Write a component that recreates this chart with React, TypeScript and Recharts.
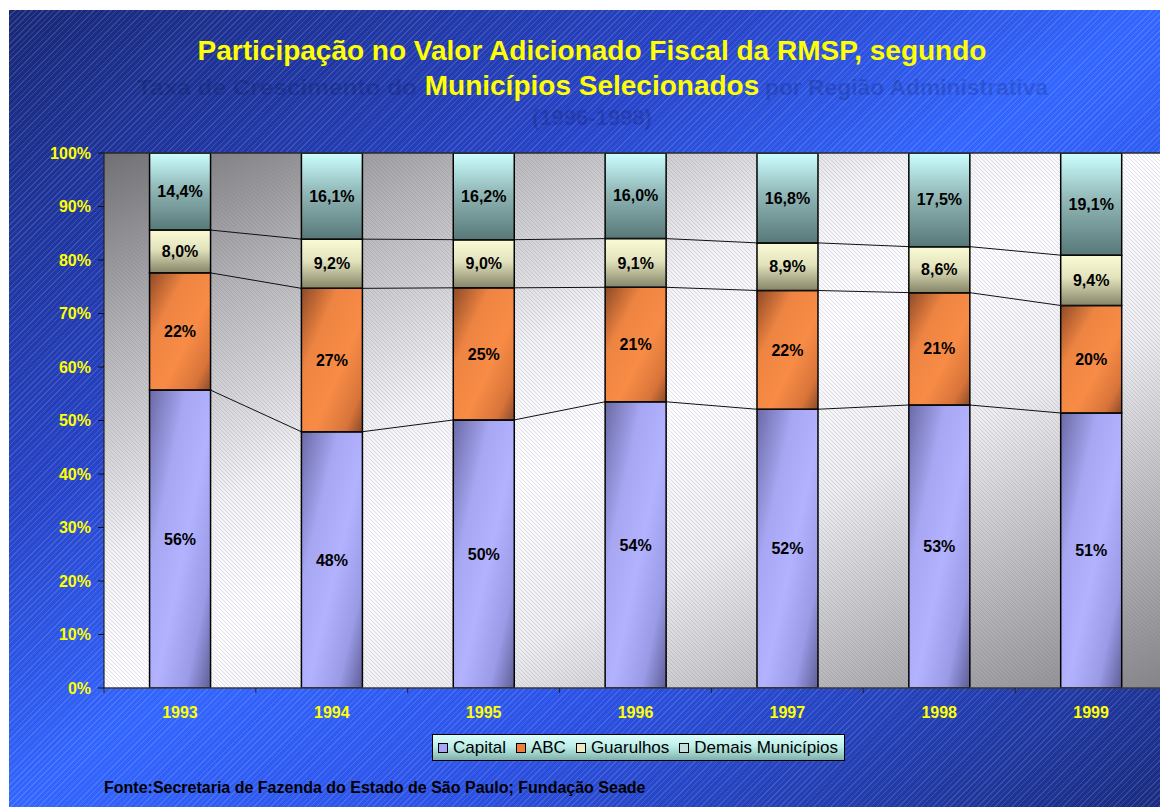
import React from 'react';
import {
  ComposedChart,
  Bar,
  XAxis,
  YAxis,
  CartesianGrid,
  Scatter,
  LabelList,
  Legend,
  ReferenceLine,
} from 'recharts';

const FONT = '"Liberation Sans", Arial, Helvetica, sans-serif';

// ---------- data ----------
const years = ['1993', '1994', '1995', '1996', '1997', '1998', '1999'];
const capital = [55.7, 47.9, 50.1, 53.5, 52.1, 52.9, 51.4];
const abc = [21.9, 26.8, 24.7, 21.4, 22.2, 21.0, 20.1];
const guarulhos = [8.0, 9.2, 9.0, 9.1, 8.9, 8.6, 9.4];
const demais = [14.4, 16.1, 16.2, 16.0, 16.8, 17.5, 19.1];
const seriesKeys = ['capital', 'abc', 'guarulhos', 'demais'];
const seriesNames = ['Capital', 'ABC', 'Guarulhos', 'Demais Municípios'];
const swatchColors = ['#a6a6f6', '#f07e3c', '#ecebc6', '#c4dedb'];
const yTicks = [0, 10, 20, 30, 40, 50, 60, 70, 80, 90, 100];

const data = years.map((year, i) => ({
  year,
  capital: capital[i],
  abc: abc[i],
  guarulhos: guarulhos[i],
  demais: demais[i],
}));

// ---------- layout ----------
const CHART_W = 1160;
const CHART_H = 797;
const MARGIN = { top: 143, right: 2, bottom: 89, left: 0 };
const Y_AXIS_W = 95;
const X_AXIS_H = 30;
const CAT_GAP = 0.3; // barCategoryGap fraction
const HALF_BAR = (1 - 2 * CAT_GAP) / 2; // half bar width, in category units
const PLOT_W = CHART_W - MARGIN.left - MARGIN.right - Y_AXIS_W;
const HALF_STEP = PLOT_W / years.length / 2;

// series connector lines (stack boundaries), from bar edge to bar edge
const cumCapital = capital.map((v) => v);
const cumAbc = capital.map((v, i) => v + abc[i]);
const cumGuar = capital.map((v, i) => v + abc[i] + guarulhos[i]);
const edgePoints = (cum: number[]) =>
  cum.flatMap((c, i) => [
    { x: i - HALF_BAR, y: c },
    { x: i + HALF_BAR, y: c },
  ]);

const fmtInt = (v: any) => `${Math.round(Number(v))}%`;
const fmtDec = (v: any) => `${Number(v).toFixed(1).replace('.', ',')}%`;

const labelProps = {
  position: 'center' as const,
  fill: '#000',
  fontSize: 16,
  fontWeight: 'bold',
  fontFamily: FONT,
};

const YearTick = (props: any) => {
  const { x, y, payload, index } = props;
  const axisY = y - 19;
  return (
    <g>
      <line x1={x - HALF_STEP} y1={axisY} x2={x - HALF_STEP} y2={axisY + 5} stroke="#222" />
      {index === years.length - 1 && (
        <line x1={x + HALF_STEP} y1={axisY} x2={x + HALF_STEP} y2={axisY + 5} stroke="#222" />
      )}
      <text
        x={x}
        y={y}
        dy="0.71em"
        textAnchor="middle"
        fill="#ffff00"
        fontWeight="bold"
        fontSize={16}
        fontFamily={FONT}
      >
        {payload.value}
      </text>
    </g>
  );
};

const LegendBox = (props: any) => {
  const payload = (props.payload || []).filter((p: any) => p.type !== 'none');
  const present = seriesKeys.filter((k) => payload.some((p: any) => String(p.dataKey) === k));
  return (
    <div
      style={{
        display: 'inline-flex',
        alignItems: 'center',
        height: 25,
        padding: '0 6px 0 5px',
        border: '1px solid #000',
        background: 'linear-gradient(#dcfffb 0%, #bdeee8 45%, #9ccfc8 75%, #7fb0aa 100%)',
        fontFamily: FONT,
        fontSize: 17,
        color: '#000',
        whiteSpace: 'nowrap',
        gap: 10,
      }}
    >
      {present.map((key) => {
        const idx = seriesKeys.indexOf(key);
        return (
          <span key={key} style={{ display: 'inline-flex', alignItems: 'center', gap: 5 }}>
            <span
              style={{
                display: 'inline-block',
                width: 8,
                height: 8,
                border: '1px solid #000',
                background: swatchColors[idx],
              }}
            />
            <span>{seriesNames[idx]}</span>
          </span>
        );
      })}
    </div>
  );
};

export default function App() {
  return (
    <div
      style={{
        position: 'fixed',
        left: 9,
        top: 10,
        width: CHART_W - 9,
        height: CHART_H,
        overflow: 'hidden',
        background:
          'repeating-linear-gradient(135deg, rgba(255,255,255,0.13) 0px, rgba(255,255,255,0.13) 1px, rgba(255,255,255,0) 1px, rgba(255,255,255,0) 4px), linear-gradient(to bottom right, #182877 0%, #2744c8 32%, #3366ff 50%, #2c52e6 68%, #1a2c80 100%)',
      }}
    >
      <svg width={0} height={0} style={{ position: 'absolute' }}>
        <defs>
          <linearGradient id="plotBg" x1="0" y1="0" x2="1" y2="1">
            <stop offset="0" stopColor="#707070" />
            <stop offset="0.18" stopColor="#b4b4b4" />
            <stop offset="0.38" stopColor="#f2f2f2" />
            <stop offset="0.5" stopColor="#ffffff" />
            <stop offset="0.66" stopColor="#ededed" />
            <stop offset="0.85" stopColor="#b2b2b2" />
            <stop offset="1" stopColor="#858585" />
          </linearGradient>
          <pattern id="plotHatch" width="4" height="4" patternUnits="userSpaceOnUse">
            <path d="M0,0 L4,4" stroke="rgba(110,110,190,0.28)" strokeWidth="0.8" />
          </pattern>
          <linearGradient id="gCap" x1="0" y1="0" x2="1" y2="1">
            <stop offset="0" stopColor="#6a6aa6" />
            <stop offset="0.3" stopColor="#a6a6f2" />
            <stop offset="0.55" stopColor="#b2b2ff" />
            <stop offset="0.8" stopColor="#9a9ae6" />
            <stop offset="1" stopColor="#5e5e98" />
          </linearGradient>
          <linearGradient id="gAbc" x1="0" y1="0" x2="1" y2="1">
            <stop offset="0" stopColor="#8e4a26" />
            <stop offset="0.3" stopColor="#ee8442" />
            <stop offset="0.6" stopColor="#f88c46" />
            <stop offset="0.85" stopColor="#d8743a" />
            <stop offset="1" stopColor="#8a4a2a" />
          </linearGradient>
          <linearGradient id="gGuar" x1="0" y1="0" x2="0" y2="1">
            <stop offset="0" stopColor="#fbfbd6" />
            <stop offset="0.45" stopColor="#e2e2bc" />
            <stop offset="1" stopColor="#858568" />
          </linearGradient>
          <linearGradient id="gDem" x1="0" y1="0" x2="0" y2="1">
            <stop offset="0" stopColor="#ccffff" />
            <stop offset="0.45" stopColor="#92b8b8" />
            <stop offset="1" stopColor="#587878" />
          </linearGradient>
        </defs>
      </svg>

      <ComposedChart width={CHART_W} height={CHART_H} data={data} margin={MARGIN} barCategoryGap="30%">
        <CartesianGrid horizontal={false} vertical={false} fill="url(#plotBg)" stroke="none" />
        <CartesianGrid horizontal={false} vertical={false} fill="url(#plotHatch)" stroke="none" />
        <XAxis
          dataKey="year"
          height={X_AXIS_H}
          axisLine={{ stroke: '#3a3a3a', strokeWidth: 1.5 }}
          tickLine={false}
          tickSize={6}
          tickMargin={13}
          interval={0}
          tick={<YearTick />}
        />
        <XAxis
          xAxisId="num"
          type="number"
          dataKey="x"
          domain={[-0.5, years.length - 0.5]}
          allowDataOverflow
          hide
        />
        <YAxis
          width={Y_AXIS_W}
          domain={[0, 100]}
          ticks={yTicks}
          allowDataOverflow
          interval={0}
          tickFormatter={(v: number) => `${v}%`}
          axisLine={{ stroke: '#222', strokeWidth: 1.2 }}
          tickLine={{ stroke: '#111' }}
          tickSize={6}
          tickMargin={7}
          tick={{ fill: '#ffff00', fontSize: 16, fontWeight: 'bold', fontFamily: FONT }}
        />
        <ReferenceLine y={100} stroke="#2a2a2a" strokeWidth={1.5} />

        <Bar dataKey="capital" name="Capital" stackId="s" fill="url(#gCap)" stroke="#000" strokeWidth={1.5} isAnimationActive={false}>
          <LabelList dataKey="capital" formatter={fmtInt} {...labelProps} />
        </Bar>
        <Bar dataKey="abc" name="ABC" stackId="s" fill="url(#gAbc)" stroke="#000" strokeWidth={1.5} isAnimationActive={false}>
          <LabelList dataKey="abc" formatter={fmtInt} {...labelProps} />
        </Bar>
        <Bar dataKey="guarulhos" name="Guarulhos" stackId="s" fill="url(#gGuar)" stroke="#000" strokeWidth={1.5} isAnimationActive={false}>
          <LabelList dataKey="guarulhos" formatter={fmtDec} {...labelProps} />
        </Bar>
        <Bar dataKey="demais" name="Demais Municípios" stackId="s" fill="url(#gDem)" stroke="#000" strokeWidth={1.5} isAnimationActive={false}>
          <LabelList dataKey="demais" formatter={fmtDec} {...labelProps} />
        </Bar>

        <Scatter xAxisId="num" data={edgePoints(cumCapital)} dataKey="y" line={{ stroke: '#111', strokeWidth: 1 }} shape={() => <g />} legendType="none" isAnimationActive={false} />
        <Scatter xAxisId="num" data={edgePoints(cumAbc)} dataKey="y" line={{ stroke: '#111', strokeWidth: 1 }} shape={() => <g />} legendType="none" isAnimationActive={false} />
        <Scatter xAxisId="num" data={edgePoints(cumGuar)} dataKey="y" line={{ stroke: '#111', strokeWidth: 1 }} shape={() => <g />} legendType="none" isAnimationActive={false} />

        <Legend
          layout="horizontal"
          verticalAlign="middle"
          align="center"
          wrapperStyle={{ left: 423, top: 724, width: 'auto', height: 'auto' }}
          content={<LegendBox />}
        />
      </ComposedChart>

      <svg
        width={CHART_W - 9}
        height={CHART_H}
        style={{ position: 'absolute', left: 0, top: 0, pointerEvents: 'none' }}
      >
        <text x={128} y={85} textLength={280} lengthAdjust="spacingAndGlyphs" fill="#050d40" opacity={0.18} fontFamily={FONT} fontWeight="bold" fontSize={22}>
          Taxa de Crescimento do
        </text>
        <text x={756} y={85} textLength={283} lengthAdjust="spacingAndGlyphs" fill="#050d40" opacity={0.18} fontFamily={FONT} fontWeight="bold" fontSize={22}>
          por Região Administrativa
        </text>
        <text x={583} y={115} textAnchor="middle" fill="#050d40" opacity={0.18} fontFamily={FONT} fontWeight="bold" fontSize={22}>
          (1996-1998)
        </text>
        <text x={583} y={50} textAnchor="middle" fill="#ffff00" fontFamily={FONT} fontWeight="bold" fontSize={28}>
          Participação no Valor Adicionado Fiscal da RMSP, segundo
        </text>
        <text x={583} y={85} textAnchor="middle" fill="#ffff00" fontFamily={FONT} fontWeight="bold" fontSize={28}>
          Municípios Selecionados
        </text>
        <text x={95} y={783} fill="#000" fontFamily={FONT} fontWeight="bold" fontSize={16}>
          Fonte:Secretaria de Fazenda do Estado de São Paulo; Fundação Seade
        </text>
      </svg>
    </div>
  );
}
